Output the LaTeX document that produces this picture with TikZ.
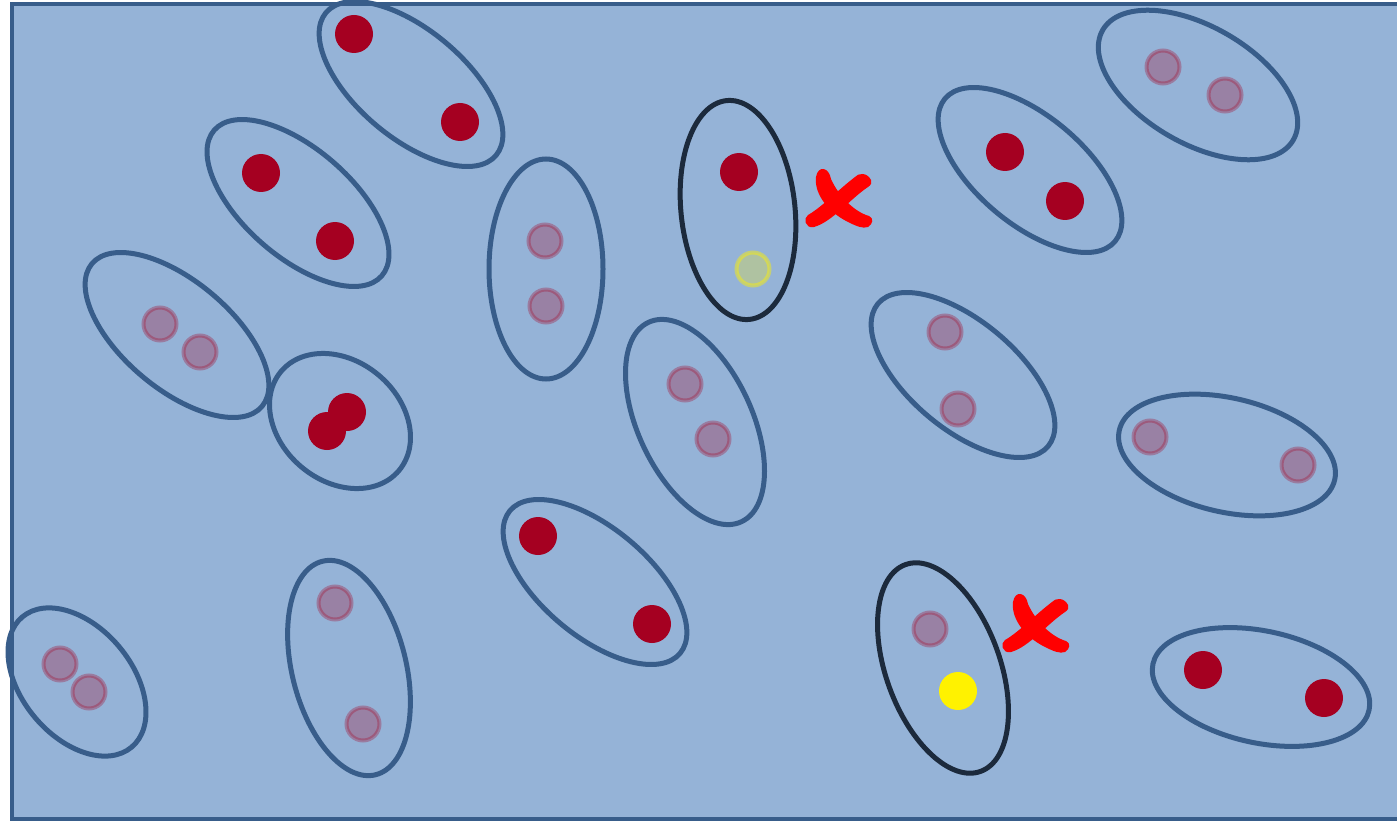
\documentclass[tikz,border=0pt]{standalone}
\usetikzlibrary{shapes.geometric}
\definecolor{bgblue}{HTML}{95B3D7}
\definecolor{edgeblue}{HTML}{385D8A}
\definecolor{darkedge}{HTML}{1C2A3C}
\definecolor{dotred}{HTML}{A50021}
\definecolor{xred}{HTML}{FF0000}
\tikzset{
  pair/.style={ellipse, draw=edgeblue, line width=5pt, inner sep=0pt, minimum width=222pt, minimum height=108pt},
  darkpair/.style={pair, draw=darkedge},
  reddot/.style={circle, fill=dotred, inner sep=0pt, minimum size=38pt},
  fadedot/.style={circle, inner sep=0pt, minimum size=33pt, fill=dotred, fill opacity=0.28, draw=dotred, draw opacity=0.3, line width=4pt},
  fadeyellow/.style={circle, inner sep=0pt, minimum size=33pt, fill=yellow, fill opacity=0.25, draw=yellow, draw opacity=0.45, line width=4pt},
  yellowdot/.style={circle, fill=yellow, inner sep=0pt, minimum size=38pt},
  crossfill/.style={fill=xred},
}
\begin{document}
\begin{tikzpicture}[x=1pt,y=-1pt]
\useasboundingbox (0,0) rectangle (1397,821);
\fill[bgblue] (12,4) rectangle (1405,819);
\draw[edgeblue, line width=4pt] (1405,4) -- (12,4) -- (12,819) -- (1405,819);

% pairs
\node[pair, rotate=-40] (e1) at (411,84) {};
\node[reddot] (d1a) at (354,34) {};
\node[reddot] (d1b) at (460,122) {};

\node[pair, rotate=-41] (e2) at (298,203) {};
\node[reddot] (d2a) at (261,173) {};
\node[reddot] (d2b) at (335,241) {};

\node[pair, rotate=-40] (e3) at (177,335) {};
\node[fadedot] (d3a) at (160,324) {};
\node[fadedot] (d3b) at (200,352) {};

\node[pair, rotate=-40, minimum width=154pt, minimum height=120pt] (e4) at (340,421) {};
\node[reddot] (d4a) at (347,412) {};
\node[reddot] (d4b) at (327,431) {};

\node[pair, rotate=-90, minimum width=220pt, minimum height=114pt] (e5) at (546,269) {};
\node[fadedot] (d5a) at (545,241) {};
\node[fadedot] (d5b) at (546,306) {};

\node[darkpair, rotate=-84, minimum width=220pt, minimum height=114pt] (e6) at (738,210) {};
\node[reddot] (d6a) at (739,172) {};
\node[fadeyellow] (d6b) at (753,269) {};

\node[pair, rotate=-65, minimum width=220pt, minimum height=114pt] (e7) at (695,422) {};
\node[fadedot] (d7a) at (685,384) {};
\node[fadedot] (d7b) at (713,439) {};

\node[pair, rotate=-40] (e8) at (595,582) {};
\node[reddot] (d8a) at (538,536) {};
\node[reddot] (d8b) at (652,624) {};

\node[pair, rotate=-50, minimum width=170pt, minimum height=110pt] (e9) at (77,682) {};
\node[fadedot] (d9a) at (60,664) {};
\node[fadedot] (d9b) at (89,692) {};

\node[pair, rotate=-76, minimum width=220pt, minimum height=114pt] (e10) at (349,668) {};
\node[fadedot] (d10a) at (335,603) {};
\node[fadedot] (d10b) at (363,724) {};

\node[darkpair, rotate=-70, minimum width=220pt, minimum height=114pt] (e11) at (943,668) {};
\node[fadedot] (d11a) at (930,629) {};
\node[yellowdot] (d11b) at (958,691) {};

\node[pair, rotate=-40] (e12) at (963,375) {};
\node[fadedot] (d12a) at (945,332) {};
\node[fadedot] (d12b) at (958,409) {};

\node[pair, rotate=-40] (e13) at (1030,170) {};
\node[reddot] (d13a) at (1005,152) {};
\node[reddot] (d13b) at (1065,201) {};

\node[pair, rotate=-30, minimum width=220pt, minimum height=117pt] (e14) at (1198,85) {};
\node[fadedot] (d14a) at (1163,67) {};
\node[fadedot] (d14b) at (1225,95) {};

\node[pair, rotate=-13, minimum width=221pt, minimum height=114pt] (e15) at (1227,455) {};
\node[fadedot] (d15a) at (1150,437) {};
\node[fadedot] (d15b) at (1298,465) {};

\node[pair, rotate=-12, minimum width=221pt, minimum height=112pt] (e16) at (1261,687) {};
\node[reddot] (d16a) at (1203,670) {};
\node[reddot] (d16b) at (1324,698) {};

% red crosses
\foreach \dx/\dy in {0/0, 197/425}{
  \begin{scope}[shift={(\dx,\dy)}]
    \fill[crossfill] (816,177) .. controls (814,192) and (826,211) .. (848,222)
      .. controls (856,226) and (863,229) .. (868,227)
      .. controls (873,224) and (874,218) .. (869,216)
      .. controls (855,212) and (839,197) .. (831,179)
      .. controls (829,167) and (818,165) .. (816,177) -- cycle;
    \fill[crossfill] (871,180) .. controls (867,172) and (858,173) .. (855,177)
      .. controls (838,190) and (822,207) .. (808,215)
      .. controls (803,218) and (805,229) .. (814,227)
      .. controls (832,222) and (850,199) .. (868,187)
      .. controls (871,185) and (872,183) .. (871,180) -- cycle;
  \end{scope}
}
\end{tikzpicture}
\end{document}
